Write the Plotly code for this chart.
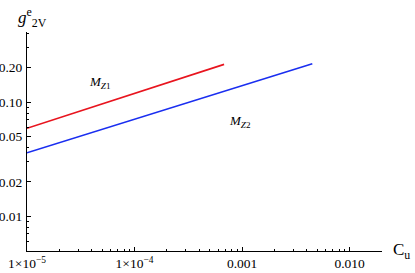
import plotly.graph_objects as go

# Data
red_x = [1e-5, 6.8e-4]
red_y = [0.059, 0.214]
blue_x = [1e-5, 4.5e-3]
blue_y = [0.036, 0.217]

x_tickvals = [1e-5, 1e-4, 1e-3, 1e-2]
x_ticktext = ["1×10<sup>−5</sup>", "1×10<sup>−4</sup>", "0.001", "0.010"]
y_tickvals = [0.01, 0.02, 0.05, 0.10, 0.20]
y_ticktext = ["0.01", "0.02", "0.05", "0.10", "0.20"]

x_minor = [m * 10 ** e for e in (-5, -4, -3, -2) for m in range(2, 10) if m * 10 ** e < 0.02]
y_minor = [0.006, 0.007, 0.008, 0.009, 0.03, 0.04, 0.06, 0.07, 0.08, 0.09, 0.3, 0.4]

font = dict(family="Liberation Serif", size=13.5, color="black")

fig = go.Figure()
fig.add_trace(go.Scatter(x=red_x, y=red_y, mode="lines",
                         line=dict(color="#e8141e", width=1.6), showlegend=False))
fig.add_trace(go.Scatter(x=blue_x, y=blue_y, mode="lines",
                         line=dict(color="#1a2ef0", width=1.6), showlegend=False))

axis_common = dict(showgrid=False, zeroline=False, showline=True, linecolor="black",
                   linewidth=1, ticks="inside", ticklen=4, tickcolor="black",
                   tickfont=font, mirror=False, automargin=False)

fig.update_xaxes(type="log", range=[-5, 1.30103 - 3], tickmode="array",
                 tickvals=x_tickvals, ticktext=x_ticktext,
                 minor=dict(tickvals=x_minor, ticks="inside", ticklen=2, tickcolor="black"),
                 **axis_common)
fig.update_yaxes(type="log", range=[-2.304, -0.386], tickmode="array",
                 tickvals=y_tickvals, ticktext=y_ticktext, ticklabelstandoff=1,
                 minor=dict(tickvals=y_minor, ticks="inside", ticklen=2, tickcolor="black"),
                 **axis_common)

fig.add_annotation(xref="paper", yref="paper", x=-0.03, y=1.0, xanchor="left", yanchor="bottom",
                   text="<i>g</i><sup>e</sup><sub>2V</sub>", showarrow=False,
                   font=dict(family="Liberation Serif", size=17, color="black"))
fig.add_annotation(xref="paper", yref="paper", x=1.025, y=0.0, xanchor="left", yanchor="middle",
                   text="C<sub>u</sub>", showarrow=False,
                   font=dict(family="Liberation Serif", size=17, color="black"))
fig.add_annotation(x=-4.33, y=-0.825, xref="x", yref="y", text="<i>M</i><sub><i>Z</i>1</sub>",
                   showarrow=False, font=dict(family="Liberation Serif", size=13, color="black"))
fig.add_annotation(x=-3.02, y=-1.167, xref="x", yref="y", text="<i>M</i><sub><i>Z</i>2</sub>",
                   showarrow=False, font=dict(family="Liberation Serif", size=13, color="black"))

fig.update_layout(width=415, height=273, margin=dict(l=27, r=33, t=32, b=22),
                  plot_bgcolor="white", paper_bgcolor="white")

fig.write_html("out.html", config={"displayModeBar": False},
               post_script="document.body.style.margin='0';document.body.style.overflow='hidden';")
